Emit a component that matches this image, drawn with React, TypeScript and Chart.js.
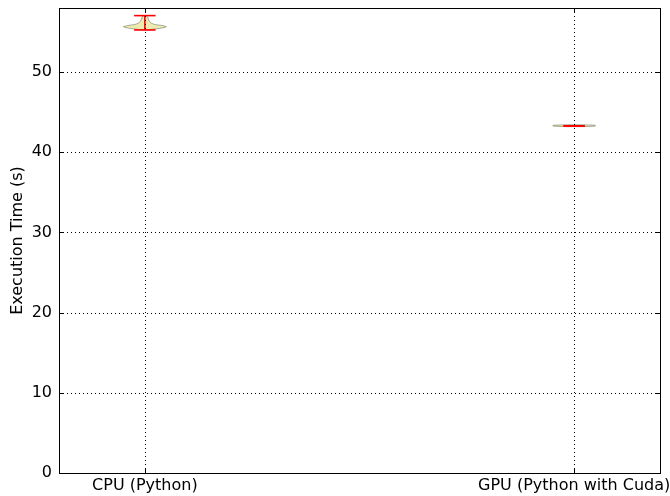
import React, { useEffect, useRef } from "react";
import { Chart, registerables } from "chart.js";

Chart.register(...registerables);

const categories = ["CPU (Python)", "GPU (Python with Cuda)"];
const positions = [1, 2];
const yTickValues = [0, 10, 20, 30, 40, 50];

// extrema of each series (seconds)
const seriesMin = [55.26, 43.27];
const seriesMax = [57.05, 43.31];

// kernel density outline: y values and half widths (x-axis units)
const cpuViolinY = [55.26, 55.32, 55.45, 55.57, 55.69, 55.82, 55.94, 56.13, 56.38, 56.63, 56.88, 57.05];
const cpuViolinHalfWidth = [0.003, 0.014, 0.033, 0.047, 0.05, 0.04, 0.023, 0.014, 0.01, 0.008, 0.007, 0.003];
const gpuViolinY = [43.2, 43.26, 43.32, 43.38, 43.44];
const gpuViolinHalfWidth = [0.02, 0.048, 0.05, 0.048, 0.02];

const violinY = [cpuViolinY, gpuViolinY];
const violinHalfWidth = [cpuViolinHalfWidth, gpuViolinHalfWidth];
const extremaHalfWidth = 0.025;

function polygon(pos: number, ys: number[], hw: number[]) {
  const pts: { x: number; y: number }[] = [];
  for (let i = 0; i < ys.length; i++) pts.push({ x: pos - hw[i], y: ys[i] });
  for (let i = ys.length - 1; i >= 0; i--) pts.push({ x: pos + hw[i], y: ys[i] });
  pts.push({ x: pos - hw[0], y: ys[0] });
  return pts;
}

const FONT = "'DejaVu Sans', sans-serif";

const framePlugin = {
  id: "frame",
  beforeDatasetDraw(chart: any, args: any) {
    const ds = chart.data.datasets[args.index];
    if (!ds.violinFill) return;
    const pts = args.meta.data;
    const ctx = chart.ctx;
    ctx.save();
    ctx.beginPath();
    pts.forEach((p: any, i: number) => (i === 0 ? ctx.moveTo(p.x, p.y) : ctx.lineTo(p.x, p.y)));
    ctx.closePath();
    ctx.fillStyle = ds.violinFill;
    ctx.fill();
    ctx.restore();
  },
  afterDatasetsDraw(chart: any) {
    const { ctx, chartArea: a, scales } = chart;
    const xs = scales.x, ys = scales.y;
    ctx.save();
    ctx.strokeStyle = "#000";
    ctx.lineWidth = 1;
    ctx.setLineDash([1, 3]);
    ctx.beginPath();
    positions.forEach((p) => {
      const x = Math.round(xs.getPixelForValue(p)) + 0.5;
      ctx.moveTo(x, a.top);
      ctx.lineTo(x, a.bottom);
    });
    yTickValues.forEach((v) => {
      const y = Math.round(ys.getPixelForValue(v)) + 0.5;
      ctx.moveTo(a.left, y);
      ctx.lineTo(a.right, y);
    });
    ctx.stroke();
    ctx.setLineDash([]);
    ctx.beginPath();
    const t = 4;
    positions.forEach((p) => {
      const x = Math.round(xs.getPixelForValue(p)) + 0.5;
      ctx.moveTo(x, a.bottom);
      ctx.lineTo(x, a.bottom - t);
      ctx.moveTo(x, a.top);
      ctx.lineTo(x, a.top + t);
    });
    yTickValues.forEach((v) => {
      const y = Math.round(ys.getPixelForValue(v)) + 0.5;
      ctx.moveTo(a.left, y);
      ctx.lineTo(a.left + t, y);
      ctx.moveTo(a.right, y);
      ctx.lineTo(a.right - t, y);
    });
    ctx.stroke();
    ctx.strokeRect(Math.round(a.left) + 0.5, Math.round(a.top) + 0.5, Math.round(a.right - a.left), Math.round(a.bottom - a.top));
    ctx.restore();
  },
};

export default function App() {
  const ref = useRef<HTMLCanvasElement>(null);
  useEffect(() => {
    const datasets: any[] = [];
    // red extrema lines first so that they are drawn on top of the violins
    positions.forEach((pos, i) => {
      const red = { type: "line", borderColor: "#ff0000", borderWidth: 1.6, pointRadius: 0, fill: false };
      datasets.push({ ...red, data: [{ x: pos - extremaHalfWidth, y: seriesMax[i] }, { x: pos + extremaHalfWidth, y: seriesMax[i] }] });
      datasets.push({ ...red, data: [{ x: pos - extremaHalfWidth, y: seriesMin[i] }, { x: pos + extremaHalfWidth, y: seriesMin[i] }] });
      datasets.push({ ...red, data: [{ x: pos, y: seriesMin[i] }, { x: pos, y: seriesMax[i] }] });
    });
    positions.forEach((pos, i) => {
      datasets.push({
        type: "line",
        data: polygon(pos, violinY[i], violinHalfWidth[i]),
        borderColor: "rgba(0,0,0,0.3)",
        borderWidth: 1,
        violinFill: "rgba(191,191,0,0.3)",
        pointRadius: 0,
        fill: false,
        tension: 0,
      });
    });
    const chart = new Chart(ref.current!, {
      type: "line",
      data: { datasets },
      plugins: [framePlugin],
      options: {
        animation: false,
        responsive: false,
        layout: { padding: { top: 8, right: 10, left: 0, bottom: 0 } },
        plugins: { legend: { display: false }, tooltip: { enabled: false } },
        scales: {
          x: {
            type: "linear",
            min: 0.8,
            max: 2.2,
            grid: { display: false, drawTicks: false },
            border: { display: false },
            afterBuildTicks: (axis: any) => {
              axis.ticks = positions.map((v) => ({ value: v }));
            },
            afterFit: (s: any) => {
              s.height = 23;
              s.paddingLeft = 0;
              s.paddingRight = 0;
            },
            ticks: {
              padding: 3,
              color: "#000",
              font: { family: FONT, size: 16 },
              maxRotation: 0,
              autoSkip: false,
              callback: (v: any) => categories[positions.indexOf(Number(v))] ?? "",
            },
          },
          y: {
            type: "linear",
            min: 0,
            max: 58,
            grid: { display: false, drawTicks: false },
            border: { display: false },
            afterBuildTicks: (axis: any) => {
              axis.ticks = yTickValues.map((v) => ({ value: v }));
            },
            afterFit: (s: any) => {
              s.width = 59;
              s.paddingTop = 0;
              s.paddingBottom = 0;
            },
            ticks: { padding: 7, color: "#000", font: { family: FONT, size: 16 } },
            title: {
              display: true,
              text: "Execution Time (s)",
              color: "#000",
              font: { family: FONT, size: 16 },
              padding: { top: 8, bottom: 0 },
            },
          },
        },
      } as any,
    });
    return () => chart.destroy();
  }, []);
  return (
    <div style={{ position: "fixed", left: 0, top: 0, width: 670, height: 496, background: "#fff" }}>
      <canvas ref={ref} width={670} height={496} style={{ width: 670, height: 496 }} />
    </div>
  );
}
